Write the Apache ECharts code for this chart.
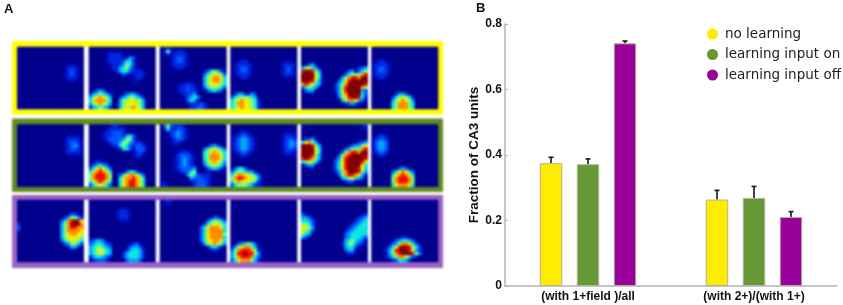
<!DOCTYPE html>
<html>
<head>
<meta charset="utf-8">
<style>html,body{margin:0;padding:0;background:#fff}
#a,#b{position:absolute;left:0;top:0;width:843px;height:305px}
#a{filter:blur(1.1px)}#b{filter:blur(0.3px)}</style>
<script src="https://cdn.jsdelivr.net/npm/echarts@6/dist/echarts.min.js"></script>
</head>
<body>
<div id="a"></div>
<div id="b"></div>
<script>
// Panel B values
const categories = ['(with 1+field )/all', '(with 2+)/(with 1+)'];
const seriesNames = ['no learning', 'learning input on', 'learning input off'];
const noLearning = [0.375, 0.264];
const inputOn = [0.372, 0.269];
const inputOff = [0.741, 0.211];
const noLearningTop = [0.393, 0.292];
const inputOnTop = [0.388, 0.304];
const inputOffTop = [0.748, 0.227];
const yTicks = [0, 0.2, 0.4, 0.6, 0.8];

// Panel A rate maps: each patch is [row, first column, levels 0-a]; other cells are 0
const yellow1 = [[5,15,"111"],[6,14,"12221"],[7,14,"12321"],[8,14,"12321"],[9,14,"12221"],[10,15,"111"]];
const yellow2 = [[1,6,"1111"],[2,5,"122221"],[3,5,"1222212431"],[4,5,"1222235521"],[5,5,"0122246531"],[6,6,"1224564210"],[7,7,"1245532221"],[8,9,"13211222"],[9,12,"11221"],[10,13,"111"],[13,0,"013431"],[14,0,"2456542"],[15,0,"4678764"],[16,0,"5788865"],[17,0,"4678764"],[18,0,"2456542"],[14,10,"134431"],[15,9,"24566542"],[16,9,"46677664"],[17,9,"46777764"],[18,9,"46768764"]];
const yellow3 = [[1,4,"1221"],[2,3,"122221"],[3,3,"123321"],[4,3,"123321"],[5,3,"122221"],[6,4,"1221"],[0,1,"121"],[1,1,"262"],[2,1,"121"],[7,13,"1356531"],[8,13,"3567763"],[9,13,"4678875"],[10,13,"4678875"],[11,13,"4677765"],[12,13,"3566653"],[13,14,"34543"],[11,6,"12221"],[12,5,"1223221"],[13,5,"1223221"],[14,6,"12221"],[14,8,"2341"],[15,7,"134541"],[16,8,"3541"],[17,8,"1222321"],[18,8,"1223321"]];
const yellow4 = [[4,2,"1221"],[5,1,"122221"],[6,1,"123321"],[7,1,"123321"],[8,1,"122221"],[9,2,"1221"],[4,16,"111"],[5,15,"12221"],[6,15,"12321"],[7,15,"12321"],[8,15,"12221"],[9,16,"111"],[14,1,"2442242"],[15,0,"35666654"],[16,0,"5678776521"],[17,0,"5688776521"],[18,0,"5678776521"]];
const yellow5 = [[5,1,"1341"],[6,0,"467541"],[7,0,"9aa9641"],[8,0,"aaaa751"],[9,0,"aaaa751"],[10,0,"aaa9641"],[11,0,"8987541"],[12,0,"356541"],[13,1,"3441"],[14,2,"11"],[7,13,"1341"],[8,13,"356641"],[9,12,"46899754"],[10,11,"3579aaa97"],[11,10,"2468aaaa74"],[12,10,"2469aaaa64"],[13,10,"2479aaaa64"],[14,10,"1468aaaa53"],[15,11,"3679aa952"],[16,12,"46887431"],[17,13,"23431"],[6,17,"234"],[7,17,"356"],[8,17,"689"],[9,17,"8aa"],[10,18,"aa"],[11,18,"a9"],[12,18,"86"],[13,18,"43"]];
const yellow6 = [[4,1,"1221"],[5,0,"122221"],[6,0,"123321"],[7,0,"123321"],[8,0,"122221"],[9,1,"1221"],[14,7,"24431"],[15,6,"2567652"],[16,6,"4678764"],[17,6,"5688865"],[18,6,"5688865"]];

const green1 = [[3,15,"1111"],[4,14,"122221"],[5,14,"123321"],[6,14,"123431"],[7,14,"123321"],[8,14,"122221"],[9,15,"1111"]];
const green2 = [[0,6,"1221"],[1,5,"1222221"],[2,4,"1223332"],[3,4,"12233324531"],[4,4,"12333346631"],[5,5,"123346643221"],[6,6,"122565323321"],[7,8,"1255313331"],[8,13,"12321"],[9,13,"1221"],[10,14,"11"],[11,1,"1221"],[12,0,"1345431"],[13,0,"3578753"],[14,0,"5789875"],[15,0,"6899986"],[16,0,"6899986"],[17,0,"5789875"],[18,0,"3567653"],[14,10,"135531"],[15,9,"35788753"],[16,9,"57889875"],[17,9,"57899875"],[18,9,"57899875"]];
const green3 = [[0,3,"12221"],[1,3,"123321"],[2,2,"1234321"],[3,2,"1234321"],[4,3,"123321"],[5,3,"1221"],[6,4,"11"],[0,1,"363"],[1,1,"252"],[2,2,"1"],[8,5,"12221"],[9,4,"1233321"],[10,4,"1234321"],[11,4,"1234321"],[12,4,"1234321"],[13,4,"1233331"],[14,5,"12331"],[13,9,"341"],[14,8,"3561"],[15,8,"4653"],[16,9,"431"],[15,12,"2221"],[16,11,"33221"],[17,9,"1233321"],[18,9,"1233321"],[17,0,"11"],[18,0,"121"],[6,14,"13431"],[7,13,"3567653"],[8,13,"5678765"],[9,13,"5688875"],[10,13,"5688875"],[11,13,"4678764"],[12,13,"3567653"],[13,14,"34543"],[14,15,"111"]];
const green4 = [[2,2,"1221"],[3,1,"123321"],[4,0,"12344321"],[5,0,"12344321"],[6,0,"12344321"],[7,0,"12344321"],[8,1,"123321"],[9,2,"1221"],[2,16,"1111"],[3,15,"12221"],[4,15,"12332"],[5,15,"12343"],[6,15,"12343"],[7,15,"12332"],[8,15,"12221"],[9,16,"1111"],[13,1,"3553"],[14,0,"35665441"],[15,0,"5788776531"],[16,0,"6899877641"],[17,0,"5787776521"],[18,0,"3566654221"]];
const green5 = [[0,0,"1"],[0,18,"12"],[1,18,"11"],[4,1,"2341"],[5,0,"578641"],[6,0,"aaa9641"],[7,0,"aaaa751"],[8,0,"aaaa751"],[9,0,"aaa9641"],[10,0,"9a98641"],[11,0,"567652"],[12,1,"3441"],[13,2,"11"],[6,14,"1341"],[7,13,"346641"],[8,12,"36899864"],[9,11,"3689aaa97"],[10,10,"2479aaaa96"],[11,10,"3579aaaa85"],[12,10,"3579aaaa85"],[13,10,"3579aaa975"],[14,10,"2468aaa964"],[15,11,"368998742"],[16,12,"4567543"],[17,13,"2331"],[5,17,"234"],[6,17,"467"],[7,17,"689"],[8,17,"8aa"],[9,18,"aa"],[10,18,"a9"],[11,18,"97"],[12,18,"75"]];
const green6 = [[3,1,"1221"],[4,0,"123321"],[5,0,"134431"],[6,0,"134431"],[7,0,"134431"],[8,0,"123321"],[9,1,"1221"],[13,7,"13431"],[14,6,"3578753"],[15,6,"5789875"],[16,6,"6899986"],[17,6,"6899986"],[18,6,"5788875"]];

const purple1 = [[7,0,"2"],[8,0,"3"],[9,0,"2"],[4,15,"1331"],[5,14,"246642"],[6,13,"3589a97"],[7,13,"468aaa8"],[8,13,"4689988"],[9,13,"4688887"],[10,13,"4678877"],[11,13,"4677776"],[12,13,"3567765"],[13,14,"346653"],[14,15,"2442"],[15,16,"11"]];
const purple2 = [[2,9,"111"],[3,8,"12221"],[4,8,"12221"],[5,8,"12221"],[6,9,"111"],[12,0,"234431"],[13,0,"3455432"],[14,0,"4566543"],[15,0,"4567654"],[16,0,"4567654"],[17,0,"2455432"],[18,1,"23332"],[13,12,"1231"],[14,11,"134431"],[15,11,"245542"],[16,10,"2455542"],[17,10,"2455542"],[18,11,"34443"]];
const purple3 = [[0,1,"121"],[1,1,"111"],[5,15,"1331"],[6,14,"356653"],[7,13,"2567765"],[8,12,"35788875"],[9,12,"35788885"],[10,12,"35788886"],[11,12,"35788885"],[12,12,"35778875"],[13,13,"4678764"],[14,14,"24542"],[15,15,"121"]];
const purple4 = [[13,1,"13456531"],[14,0,"146788641"],[15,0,"3689998621"],[16,0,"4699a99641"],[17,0,"4689998531"],[18,0,"3578886421"]];
const purple5 = [[4,0,"31"],[5,0,"4431"],[6,0,"55431"],[7,0,"66531"],[8,0,"77641"],[9,0,"7653"],[10,0,"654"],[11,0,"43"],[4,18,"12"],[5,17,"234"],[6,16,"2345"],[7,15,"23455"],[8,14,"234555"],[9,13,"1345555"],[10,13,"3455555"],[11,13,"3455543"],[12,13,"4565431"],[13,12,"24664321"],[14,13,"45531"],[15,13,"3441"],[16,14,"221"]];
const purple6 = [[11,8,"1221"],[12,6,"13455431"],[13,5,"1346887531"],[14,4,"13579aa9753"],[15,3,"12469aaa96421"],[16,4,"14689aaa9641"],[17,4,"2356887532"],[18,6,"235542"]];

const panels = [
  [yellow1, yellow2, yellow3, yellow4, yellow5, yellow6],
  [green1, green2, green3, green4, green5, green6],
  [purple1, purple2, purple3, purple4, purple5, purple6]
];
const COLS = 20, ROWS = 19;
const jet = ['#00008c','#0008b4','#0028e0','#0058ff','#00a8ff','#10e8e0','#80ff80','#f0f000','#ff9000','#ee1000','#820000'];

// Layout
const panelLeft = [17.3, 89, 160, 230.7, 301.3, 371.7];
const panelTop = [47, 124.7, 200];
const panelW = 66.3, panelH = 62;
const frames = [
  {y: 41, h: 73.5, c: '#ffff00'},
  {y: 118.5, h: 73.5, c: '#5f8a24'},
  {y: 195, h: 73, c: '#9b63c4'}
];
const barColors = ['#ffec00', '#669933', '#990099'];
const barOffset = [-37, 0, 37];

function cellsOf(patches) {
  const m = [];
  for (let r = 0; r < ROWS; r++) m.push(new Array(COLS).fill(0));
  patches.forEach(function (p) {
    for (let i = 0; i < p[2].length; i++) {
      if (p[1] + i < COLS) m[p[0]][p[1] + i] = parseInt(p[2][i], 16);
    }
  });
  const out = [];
  m.forEach(function (row, r) { row.forEach(function (v, c) { out.push([c, r, v]); }); });
  return out;
}

// Bar chart (panel B) with both panel letters
const xAxisB = {
  type: 'category', data: categories,
  axisLine: {lineStyle: {color: '#b4b4b4', width: 1.5}},
  axisTick: {show: false},
  axisLabel: {color: '#111', fontFamily: 'Liberation Sans', fontWeight: 'bold', fontSize: 12, margin: 5}
};
const yAxisB = {
  type: 'value', min: 0, max: 0.8, interval: 0.2,
  name: 'Fraction of CA3 units', nameLocation: 'middle', nameGap: 19,
  nameTextStyle: {color: '#111', fontFamily: 'Liberation Sans', fontWeight: 'bold', fontSize: 13.5},
  axisLine: {show: true, lineStyle: {color: '#b4b4b4', width: 1.5}},
  axisTick: {show: true, inside: true, length: 3, lineStyle: {color: '#b4b4b4'}},
  splitLine: {show: false},
  axisLabel: {color: '#111', fontFamily: 'Liberation Sans', fontWeight: 'bold', fontSize: 12, margin: 3, padding: [6, 0, 0, 0],
    formatter: function (v) { return yTicks.indexOf(v) === 0 ? '0' : v.toFixed(1); }}
};

const vals = [noLearning, inputOn, inputOff];
const tops = [noLearningTop, inputOnTop, inputOffTop];
const seriesB = [];
seriesNames.forEach(function (n, i) {
  seriesB.push({
    type: 'bar', name: n, data: vals[i], barWidth: 22.5, barGap: '64.4%',
    itemStyle: {color: barColors[i], borderColor: '#b3b39c', borderWidth: 1}
  });
});
seriesNames.forEach(function (n, i) {
  seriesB.push({
    type: 'custom', name: n + ' error', silent: true, z: 1,
    data: categories.map(function (c, k) { return [k, vals[i][k], tops[i][k]]; }),
    encode: {x: 0, y: [1, 2]},
    renderItem: function (params, api) {
      const a = api.coord([api.value(0), api.value(1)]);
      const b = api.coord([api.value(0), api.value(2)]);
      const x = a[0] + barOffset[i];
      const st = {stroke: '#222', lineWidth: 1.7};
      return {type: 'group', children: [
        {type: 'line', shape: {x1: x, y1: a[1], x2: x, y2: b[1]}, style: st},
        {type: 'line', shape: {x1: x - 2.5, y1: b[1], x2: x + 2.5, y2: b[1]}, style: st}
      ]};
    }
  });
});

// Rate maps (panel A)
const grids = [], xAxes = [], yAxes = [], seriesA = [];
panels.forEach(function (row, r) {
  row.forEach(function (patches, c) {
    grids.push({show: true, backgroundColor: jet[0], borderWidth: 0, left: panelLeft[c], top: panelTop[r], width: panelW, height: panelH});
    const g = grids.length - 1;
    xAxes.push({type: 'category', gridIndex: g, show: false, data: Array.from({length: COLS}, function (_, k) { return k; })});
    yAxes.push({type: 'category', gridIndex: g, show: false, inverse: true, data: Array.from({length: ROWS}, function (_, k) { return k; })});
    seriesA.push({type: 'heatmap', xAxisIndex: g, yAxisIndex: g, data: cellsOf(patches), silent: true, progressive: 0});
  });
});

const graphic = [];
frames.forEach(function (f, r) {
  graphic.push({type: 'rect', z: -10, shape: {x: 12, y: f.y, width: 431, height: f.h, r: 1}, style: {fill: f.c}});
  panelLeft.slice(1).forEach(function (x, k) {
    const prevEnd = panelLeft[k] + panelW;
    graphic.push({type: 'rect', z: -9, shape: {x: prevEnd, y: panelTop[r], width: x - prevEnd, height: panelH}, style: {fill: '#ffffff'}});
  });
});

const chartA = echarts.init(document.getElementById('a'), null, {renderer: 'canvas'});
chartA.setOption({
  animation: false,
  backgroundColor: '#ffffff',
  grid: grids, xAxis: xAxes, yAxis: yAxes,
  visualMap: {type: 'continuous', show: false, min: 0, max: 10, dimension: 2, inRange: {color: jet}},
  graphic: graphic,
  series: seriesA
});

const chartB = echarts.init(document.getElementById('b'), null, {renderer: 'canvas'});
chartB.setOption({
  animation: false,
  backgroundColor: 'transparent',
  title: [
    {text: 'A', left: -1, top: -2, textStyle: {fontFamily: 'Liberation Sans', fontWeight: 'bold', fontSize: 13, color: '#111'}},
    {text: 'B', left: 471, top: -3, textStyle: {fontFamily: 'Liberation Sans', fontWeight: 'bold', fontSize: 13, color: '#111'}}
  ],
  legend: {
    data: seriesNames, orient: 'vertical', left: 702, top: 21, icon: 'circle',
    itemWidth: 11, itemHeight: 11, itemGap: 4.5, selectedMode: false,
    itemStyle: {borderWidth: 0},
    textStyle: {fontFamily: 'DejaVu Sans', fontSize: 13.5, color: '#222', padding: [0, 0, 0, 2], lineHeight: 16}
  },
  color: barColors,
  grid: {left: 505, right: 6, top: 24, bottom: 19},
  xAxis: xAxisB, yAxis: yAxisB,
  series: seriesB
});
</script>
</body>
</html>
